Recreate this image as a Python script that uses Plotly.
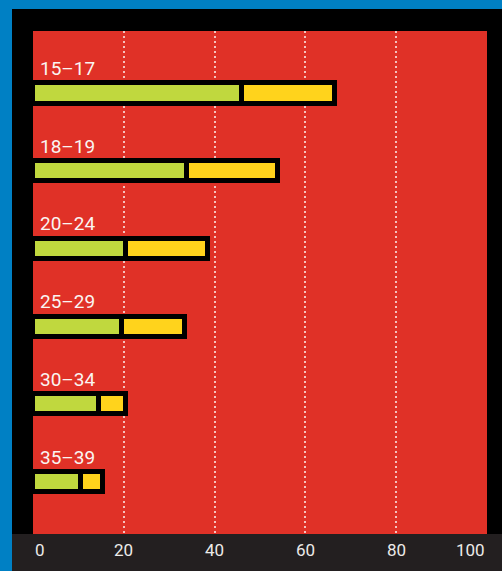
import plotly.graph_objects as go

# Age groups (top to bottom) and the two stacked segments per group
age_groups = ["15–17", "18–19", "20–24", "25–29", "30–34", "35–39"]
green_vals = [46, 34, 20.5, 19.5, 14.5, 10.5]
yellow_vals = [20.5, 20, 18, 14, 6, 5]
x_ticks = [0, 20, 40, 60, 80, 100]

RED = "#E03127"
GREEN = "#C0D83E"
YELLOW = "#FFD31C"
BLUE = "#0080C4"
DARK = "#231F20"
FONT = "Roboto, 'Open Sans', sans-serif"

W, H = 502, 571
ML, MR, MT, MB = 33, 15, 31, 37
PW, PH = W - ML - MR, H - MT - MB

ypos = list(range(len(age_groups)))
bar_w = 0.26
edge = 5

fig = go.Figure()
fig.add_trace(go.Bar(
    y=ypos, x=green_vals, orientation="h", width=bar_w,
    marker=dict(color=GREEN, line=dict(color="black", width=edge)),
    hoverinfo="skip", showlegend=False,
))
fig.add_trace(go.Bar(
    y=ypos, x=yellow_vals, orientation="h", width=bar_w,
    marker=dict(color=YELLOW, line=dict(color="black", width=edge)),
    hoverinfo="skip", showlegend=False,
))


def px_to_paper_x(px):
    return (px - ML) / PW


def px_to_paper_y(py):
    return 1 - (py - MT) / PH


shapes = [
    # blue strip along the top
    dict(type="rect", xref="paper", yref="paper", layer="below",
         x0=px_to_paper_x(0), x1=px_to_paper_x(W),
         y0=px_to_paper_y(9), y1=px_to_paper_y(0),
         fillcolor=BLUE, line=dict(width=0)),
    # blue strip along the left side
    dict(type="rect", xref="paper", yref="paper", layer="below",
         x0=px_to_paper_x(0), x1=px_to_paper_x(12),
         y0=px_to_paper_y(H), y1=px_to_paper_y(0),
         fillcolor=BLUE, line=dict(width=0)),
    # dark strip holding the value axis labels
    dict(type="rect", xref="paper", yref="paper", layer="below",
         x0=px_to_paper_x(12), x1=px_to_paper_x(W),
         y0=px_to_paper_y(H), y1=0,
         fillcolor=DARK, line=dict(width=0)),
]

annotations = []
# group labels above each bar
for i, lab in enumerate(age_groups):
    annotations.append(dict(
        x=0, y=ypos[i], xref="x", yref="y", text=lab, showarrow=False,
        xanchor="left", yanchor="middle", xshift=5, yshift=25,
        font=dict(family=FONT, size=19, color="#FAF5F2"),
    ))
# value axis labels
for v in x_ticks:
    anchor = "left" if v == x_ticks[0] else ("right" if v == x_ticks[-1] else "center")
    annotations.append(dict(
        x=v, y=0, xref="x", yref="paper", text=str(v), showarrow=False,
        xanchor=anchor, yanchor="middle", yshift=-16,
        font=dict(family=FONT, size=17, color="#ECEAE8"),
    ))

fig.update_layout(
    width=W, height=H,
    margin=dict(l=ML, r=MR, t=MT, b=MB, pad=0),
    paper_bgcolor="black", plot_bgcolor=RED,
    barmode="stack", bargap=0,
    shapes=shapes, annotations=annotations,
    xaxis=dict(
        range=[0, 100], tickvals=[20, 40, 60, 80], showticklabels=False,
        showgrid=True, gridcolor="rgba(255,255,255,0.7)", gridwidth=1.5,
        griddash="1.5px,3.5px", zeroline=False, showline=False, ticks="",
        fixedrange=True,
    ),
    yaxis=dict(
        range=[5.669, -0.804], showticklabels=False, showgrid=False,
        zeroline=False, showline=False, ticks="", fixedrange=True,
    ),
)

fig.write_html("out.html", config={"displayModeBar": False})
